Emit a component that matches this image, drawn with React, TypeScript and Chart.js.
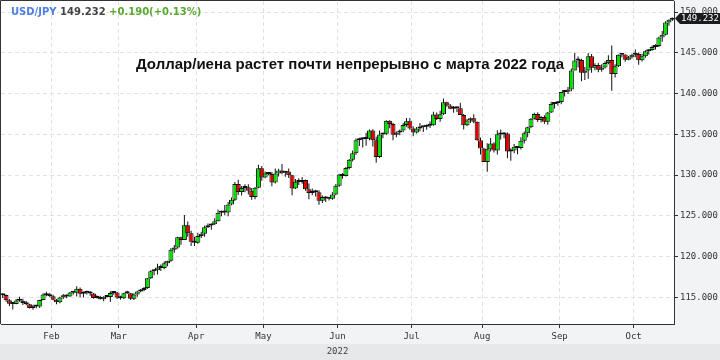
import { useEffect, useRef } from 'react';
import { Chart, registerables } from 'chart.js';

Chart.register(...registerables);

// [day, open, high, low, close]
type Row = [number, number, number, number, number];

const jan: Row[] = [
  [11, 115.26, 115.48, 114.91, 115.28], [12, 115.28, 115.35, 114.45, 114.63], [13, 114.63, 114.80, 113.94, 114.20],
  [14, 114.20, 114.34, 113.49, 114.18], [17, 114.18, 114.78, 114.13, 114.60], [18, 114.60, 115.06, 114.45, 114.58],
  [19, 114.58, 114.82, 114.04, 114.31], [20, 114.31, 114.53, 114.02, 114.13], [21, 114.13, 114.20, 113.62, 113.68],
  [24, 113.68, 114.09, 113.47, 113.96], [25, 113.96, 114.03, 113.66, 113.87], [26, 113.87, 114.69, 113.68, 114.67],
  [27, 114.67, 115.48, 114.64, 115.35], [28, 115.35, 115.68, 115.14, 115.25], [31, 115.25, 115.53, 114.99, 115.12],
];
const feb: Row[] = [
  [1, 115.12, 115.30, 114.63, 114.70], [2, 114.70, 114.80, 114.15, 114.40], [3, 114.40, 115.06, 114.27, 114.97],
  [4, 114.97, 115.40, 114.78, 115.24], [7, 115.24, 115.34, 114.87, 115.10], [8, 115.10, 115.68, 115.06, 115.57],
  [9, 115.57, 115.71, 115.35, 115.55], [10, 115.55, 116.34, 115.09, 116.04], [11, 116.04, 116.21, 115.01, 115.43],
  [14, 115.43, 115.72, 114.98, 115.55], [15, 115.55, 115.80, 115.33, 115.62], [16, 115.62, 115.76, 115.18, 115.46],
  [17, 115.46, 115.53, 114.82, 114.91], [18, 114.91, 115.24, 114.86, 115.03], [21, 115.03, 115.18, 114.72, 114.75],
  [22, 114.75, 115.14, 114.52, 115.07], [23, 115.07, 115.25, 114.96, 115.02], [24, 115.02, 115.75, 114.41, 115.53],
  [25, 115.53, 115.76, 115.32, 115.58], [28, 115.58, 115.64, 114.80, 114.98],
];
const mar: Row[] = [
  [1, 114.98, 115.20, 114.70, 114.88], [2, 114.88, 115.56, 114.79, 115.50], [3, 115.50, 115.80, 115.41, 115.49],
  [4, 115.49, 115.52, 114.66, 114.82], [7, 114.82, 115.48, 114.65, 115.33], [8, 115.33, 115.81, 115.05, 115.72],
  [9, 115.72, 116.00, 115.61, 115.89], [10, 115.89, 116.25, 115.75, 116.15], [11, 116.15, 117.36, 116.01, 117.34],
  [14, 117.34, 118.33, 117.23, 118.18], [15, 118.18, 118.45, 117.70, 118.31], [16, 118.31, 119.12, 117.80, 118.66],
  [17, 118.66, 119.03, 118.23, 118.58], [18, 118.58, 119.40, 118.45, 119.16], [21, 119.16, 119.47, 118.80, 119.47],
  [22, 119.47, 121.04, 119.37, 120.83], [23, 120.83, 121.41, 120.46, 121.10], [24, 121.10, 122.42, 120.94, 122.37],
  [25, 122.37, 122.44, 121.45, 122.04], [28, 122.04, 125.10, 122.03, 123.83], [29, 123.83, 124.29, 122.44, 122.84],
  [30, 122.84, 123.15, 121.28, 121.82], [31, 121.82, 122.43, 121.29, 121.70],
];
const apr: Row[] = [
  [1, 121.70, 122.93, 121.56, 122.52], [4, 122.52, 123.05, 122.27, 122.79], [5, 122.79, 123.77, 122.42, 123.60],
  [6, 123.60, 124.04, 123.50, 123.79], [7, 123.79, 124.05, 123.27, 123.97], [8, 123.97, 124.68, 123.88, 124.34],
  [11, 124.34, 125.77, 124.29, 125.37], [12, 125.37, 125.64, 124.95, 125.41], [13, 125.41, 126.32, 125.05, 125.39],
  [14, 125.39, 126.68, 124.94, 126.39], [18, 126.39, 127.24, 126.28, 126.96], [19, 126.96, 129.13, 126.82, 128.89],
  [20, 128.89, 129.41, 127.56, 127.91], [21, 127.91, 128.65, 127.49, 128.41], [22, 128.41, 128.86, 127.87, 128.50],
  [25, 128.50, 128.86, 127.61, 128.07], [26, 128.07, 128.40, 126.95, 127.31], [27, 127.31, 128.53, 127.03, 128.43],
  [28, 128.43, 131.25, 128.37, 130.84], [29, 130.84, 131.11, 129.31, 129.70],
];
const may: Row[] = [
  [2, 129.70, 130.44, 129.60, 130.19], [3, 130.19, 130.38, 129.96, 130.12], [4, 130.12, 130.36, 128.62, 129.07],
  [5, 129.07, 130.80, 128.97, 130.20], [6, 130.20, 130.78, 129.81, 130.56], [9, 130.56, 131.35, 130.08, 130.27],
  [10, 130.27, 130.49, 129.78, 130.44], [11, 130.44, 130.80, 129.64, 129.97], [12, 129.97, 130.02, 127.52, 128.35],
  [13, 128.35, 129.51, 128.27, 129.18], [16, 129.18, 129.60, 128.78, 129.13], [17, 129.13, 129.77, 128.92, 129.38],
  [18, 129.38, 129.45, 128.06, 128.24], [19, 128.24, 128.95, 127.03, 127.79], [20, 127.79, 128.35, 127.52, 127.87],
  [23, 127.87, 128.18, 127.35, 127.90], [24, 127.90, 128.12, 126.35, 126.84], [25, 126.84, 127.48, 126.58, 127.30],
  [26, 127.30, 127.42, 126.68, 127.11], [27, 127.11, 127.30, 126.86, 127.10], [30, 127.10, 127.90, 126.95, 127.60],
  [31, 127.60, 128.90, 127.52, 128.67],
];
const jun: Row[] = [
  [1, 128.67, 130.15, 128.55, 130.05], [2, 130.05, 130.24, 129.54, 129.87], [3, 129.87, 130.98, 129.82, 130.86],
  [6, 130.86, 131.97, 130.71, 131.88], [7, 131.88, 133.00, 131.65, 132.66], [8, 132.66, 134.48, 132.50, 134.25],
  [9, 134.25, 134.56, 133.55, 134.39], [10, 134.39, 134.59, 133.37, 134.42], [13, 134.42, 135.19, 133.58, 134.45],
  [14, 134.45, 135.59, 134.27, 135.45], [15, 135.45, 135.60, 133.50, 134.26], [16, 134.26, 134.68, 131.50, 132.20],
  [17, 132.20, 135.45, 132.10, 134.96], [20, 134.96, 135.20, 134.51, 135.05], [21, 135.05, 136.71, 134.90, 136.65],
  [22, 136.65, 136.71, 135.75, 136.26], [23, 136.26, 136.40, 134.27, 134.93], [24, 134.93, 135.34, 134.63, 135.21],
  [27, 135.21, 135.57, 134.87, 135.45], [28, 135.45, 136.38, 135.25, 136.14], [29, 136.14, 137.00, 135.91, 136.61],
  [30, 136.61, 136.98, 135.56, 135.72],
];
const jul: Row[] = [
  [1, 135.72, 135.97, 134.75, 135.21], [4, 135.21, 135.90, 135.08, 135.70], [5, 135.70, 136.38, 135.36, 135.87],
  [6, 135.87, 136.00, 135.28, 135.92], [7, 135.92, 136.20, 135.54, 136.03], [8, 136.03, 136.57, 135.76, 136.10],
  [11, 136.10, 137.75, 136.05, 137.43], [12, 137.43, 137.68, 136.75, 136.86], [13, 136.86, 137.87, 136.54, 137.46],
  [14, 137.46, 139.39, 137.37, 138.93], [15, 138.93, 139.00, 138.36, 138.54], [18, 138.54, 138.72, 138.06, 138.14],
  [19, 138.14, 138.46, 137.65, 138.22], [20, 138.22, 138.39, 137.72, 138.20], [21, 138.20, 138.88, 137.42, 137.36],
  [22, 137.36, 137.50, 135.57, 136.12], [25, 136.12, 136.87, 135.98, 136.68], [26, 136.68, 137.07, 136.38, 136.97],
  [27, 136.97, 137.46, 136.34, 136.54], [28, 136.54, 136.58, 134.20, 134.28], [29, 134.28, 134.60, 132.51, 133.24],
];
const aug: Row[] = [
  [1, 133.24, 133.36, 131.60, 131.61], [2, 131.61, 133.91, 130.41, 133.17], [3, 133.17, 134.55, 132.87, 133.86],
  [4, 133.86, 134.02, 132.77, 133.00], [5, 133.00, 135.50, 132.52, 135.00], [8, 135.00, 135.58, 134.36, 134.98],
  [9, 134.98, 135.29, 134.52, 135.09], [10, 135.09, 135.23, 132.07, 132.88], [11, 132.88, 133.27, 131.74, 133.00],
  [12, 133.00, 133.81, 132.68, 133.47], [15, 133.47, 133.49, 132.56, 133.31], [16, 133.31, 134.64, 133.14, 134.21],
  [17, 134.21, 135.33, 133.86, 135.13], [18, 135.13, 135.91, 134.62, 135.86], [19, 135.86, 137.00, 135.73, 136.89],
  [22, 136.89, 137.63, 136.80, 137.48], [23, 137.48, 137.70, 136.51, 136.75], [24, 136.75, 137.25, 136.45, 137.13],
  [25, 137.13, 137.32, 136.30, 136.54], [26, 136.54, 137.72, 136.17, 137.66], [29, 137.66, 139.00, 137.62, 138.71],
  [30, 138.71, 138.94, 138.16, 138.79], [31, 138.79, 139.08, 138.51, 138.95],
];
const sep: Row[] = [
  [1, 138.95, 140.23, 138.69, 140.19], [2, 140.19, 140.37, 139.62, 140.21], [5, 140.21, 140.80, 139.95, 140.50],
  [6, 140.50, 143.08, 140.29, 142.83], [7, 142.83, 144.99, 142.82, 144.06], [8, 144.06, 144.55, 143.20, 144.11],
  [9, 144.11, 144.25, 141.50, 142.54], [12, 142.54, 143.24, 141.66, 142.83], [13, 142.83, 144.96, 141.80, 144.57],
  [14, 144.57, 144.86, 142.55, 143.17], [15, 143.17, 143.70, 142.86, 143.49], [16, 143.49, 143.77, 142.60, 142.92],
  [19, 142.92, 143.60, 142.66, 143.20], [20, 143.20, 143.97, 143.08, 143.73], [21, 143.73, 144.70, 143.59, 144.10],
  [22, 144.10, 145.90, 140.35, 142.38], [23, 142.38, 143.58, 141.96, 143.35], [26, 143.35, 144.79, 143.26, 144.75],
  [27, 144.75, 144.87, 144.46, 144.79], [28, 144.79, 144.80, 143.90, 144.15], [29, 144.15, 144.60, 144.07, 144.45],
  [30, 144.45, 144.87, 144.28, 144.74],
];
const oct: Row[] = [
  [3, 144.74, 145.40, 144.46, 144.84], [4, 144.84, 145.04, 143.53, 144.09], [5, 144.09, 144.87, 143.94, 144.56],
  [6, 144.56, 145.30, 144.39, 145.17], [7, 145.17, 145.42, 144.80, 145.33], [10, 145.33, 145.88, 145.24, 145.70],
  [11, 145.70, 146.05, 145.39, 145.82], [12, 145.82, 146.97, 145.70, 146.87], [13, 146.87, 147.67, 146.36, 147.20],
  [14, 147.20, 148.86, 147.12, 148.70], [17, 148.70, 149.10, 148.30, 149.04], [18, 149.04, 149.32, 148.90, 149.23],
];

const monthRows = [jan, feb, mar, apr, may, jun, jul, aug, sep, oct];
const monthNames = ['Jan', 'Feb', 'Mar', 'Apr', 'May', 'Jun', 'Jul', 'Aug', 'Sep', 'Oct'];
const yTickValues = [115, 120, 125, 130, 135, 140, 145, 150];
const yMin = 111.72;
const yMax = 151.35;
const yearLabel = '2022';
const symbolText = 'USD/JPY';
const lastText = '149.232';
const changeText = '+0.190(+0.13%)';
const titleText = 'Доллар/иена растет почти непрерывно с марта 2022 года';

const UP = '#00e000';
const DOWN = '#e00000';
const INK = '#111111';
const GRID = '#e2e2e2';
const AXIS = '#333333';
const MONO = '"DejaVu Sans Mono", monospace';

export default function App() {
  const ref = useRef<HTMLCanvasElement>(null);

  useEffect(() => {
    const candles = monthRows.flatMap((rows, m) =>
      rows.map((r) => ({ m, d: r[0], o: r[1], h: r[2], l: r[3], c: r[4] }))
    );
    const N = candles.length;
    const starts = monthRows.map((_, m) => candles.findIndex((k) => k.m === m)).slice(1);
    const xLabels = monthNames.slice(1);
    const last = candles[N - 1];

    const deco = {
      id: 'deco',
      beforeDraw(chart: any) {
        const { ctx, chartArea: a, width, height } = chart;
        ctx.save();
        ctx.fillStyle = '#f2f3f5';
        ctx.fillRect(0, 0, width, height);
        ctx.fillStyle = '#e7e8ea';
        ctx.fillRect(0, 344, width, height - 344);
        ctx.fillStyle = '#ffffff';
        ctx.fillRect(a.left, a.top, a.right - a.left, a.bottom - a.top);
        ctx.restore();
      },
      beforeDatasetsDraw(chart: any) {
        const { ctx } = chart;
        ctx.save();
        ctx.font = 'bold 15px "Liberation Sans", Arial, sans-serif';
        ctx.fillStyle = '#111';
        ctx.textBaseline = 'alphabetic';
        ctx.fillText(titleText, 136, 69);
        ctx.restore();
      },
      afterDraw(chart: any) {
        const { ctx, chartArea: a } = chart;
        ctx.save();
        ctx.strokeStyle = AXIS;
        ctx.lineWidth = 1;
        ctx.beginPath();
        ctx.moveTo(a.left - 0.5, a.bottom);
        ctx.lineTo(a.left - 0.5, a.top - 0.5);
        ctx.lineTo(a.right, a.top - 0.5);
        ctx.stroke();
        ctx.font = 'bold 10px "DejaVu Sans", sans-serif';
        ctx.textBaseline = 'middle';
        let x = 11;
        const parts: [string, string][] = [
          [symbolText, '#4e7fe6'],
          [lastText, '#444444'],
          [changeText, '#5aa832'],
        ];
        for (const [t, col] of parts) {
          ctx.fillStyle = col;
          ctx.fillText(t, x, 12);
          x += ctx.measureText(t + ' ').width;
        }
        const py = Math.round(chart.scales.y.getPixelForValue(last.c)) + 0.5;
        const bx = a.right + 1;
        ctx.fillStyle = '#1c1c1c';
        ctx.beginPath();
        ctx.moveTo(bx, py);
        ctx.lineTo(bx + 5, py - 5.5);
        ctx.lineTo(720, py - 5.5);
        ctx.lineTo(720, py + 5.5);
        ctx.lineTo(bx + 5, py + 5.5);
        ctx.closePath();
        ctx.fill();
        ctx.fillStyle = '#ffffff';
        ctx.font = '9px ' + MONO;
        ctx.textBaseline = 'middle';
        ctx.fillText(lastText, bx + 6, py + 0.5);
        ctx.restore();
      },
    };

    const gridCommon = {
      color: GRID,
      lineWidth: 1,
      tickLength: 4,
      tickColor: AXIS,
      tickWidth: 1,
      tickBorderDash: [],
      offset: false,
    };
    const borderCommon = { display: true, color: AXIS, width: 1, dash: [4, 3] };
    const noPad = (s: any) => {
      s.paddingTop = 0;
      s.paddingBottom = 0;
      s.paddingLeft = 0;
      s.paddingRight = 0;
    };

    const chart = new Chart(ref.current as HTMLCanvasElement, {
      type: 'bar',
      data: {
        datasets: [
          {
            label: 'wick',
            data: candles.map((k, i) => ({ x: i, y: [k.l, k.h] })) as any,
            backgroundColor: INK,
            borderWidth: 0,
            barThickness: 1,
            grouped: false,
            order: 1,
            inflateAmount: 0,
          } as any,
          {
            label: 'body',
            data: candles.map((k, i) => ({ x: i, y: [Math.min(k.o, k.c), Math.max(k.o, k.c)] })) as any,
            backgroundColor: candles.map((k) => (k.c >= k.o ? UP : DOWN)),
            borderColor: INK,
            borderWidth: 1,
            borderSkipped: false,
            barThickness: 5,
            minBarLength: 2,
            grouped: false,
            order: 0,
            inflateAmount: 0,
          } as any,
        ],
      },
      options: {
        responsive: false,
        animation: false,
        devicePixelRatio: 1,
        layout: { padding: { left: 1, top: 1, right: 0, bottom: 0 } },
        plugins: {
          legend: { display: false },
          tooltip: { enabled: false },
        },
        scales: {
          x: {
            type: 'linear',
            min: -0.5,
            max: N - 0.5,
            offset: false,
            grid: gridCommon,
            border: borderCommon,
            ticks: {
              autoSkip: false,
              maxRotation: 0,
              padding: 3,
              color: AXIS,
              font: { family: MONO, size: 9 },
              callback: (_v: any, i: number) => xLabels[i] ?? '',
            },
            afterBuildTicks: (s: any) => {
              s.ticks = starts.map((i) => ({ value: i - 0.5 }));
            },
            afterFit: (s: any) => {
              s.height = 36;
              noPad(s);
            },
            title: {
              display: true,
              text: yearLabel,
              color: '#444',
              font: { family: MONO, size: 9 },
              padding: { top: 0, bottom: 3 },
            },
          } as any,
          y: {
            type: 'linear',
            position: 'right',
            min: yMin,
            max: yMax,
            grid: gridCommon,
            border: borderCommon,
            ticks: {
              padding: 2,
              color: AXIS,
              font: { family: MONO, size: 9 },
              callback: (v: any) => Number(v).toFixed(3),
            },
            afterBuildTicks: (s: any) => {
              s.ticks = yTickValues.map((v) => ({ value: v }));
            },
            afterFit: (s: any) => {
              s.width = 46;
              noPad(s);
            },
          } as any,
        },
      },
      plugins: [deco],
    });
    return () => chart.destroy();
  }, []);

  return (
    <div style={{ position: 'absolute', left: 0, top: 0, width: 720, height: 360 }}>
      <canvas ref={ref} width={720} height={360} style={{ display: 'block' }} />
    </div>
  );
}
